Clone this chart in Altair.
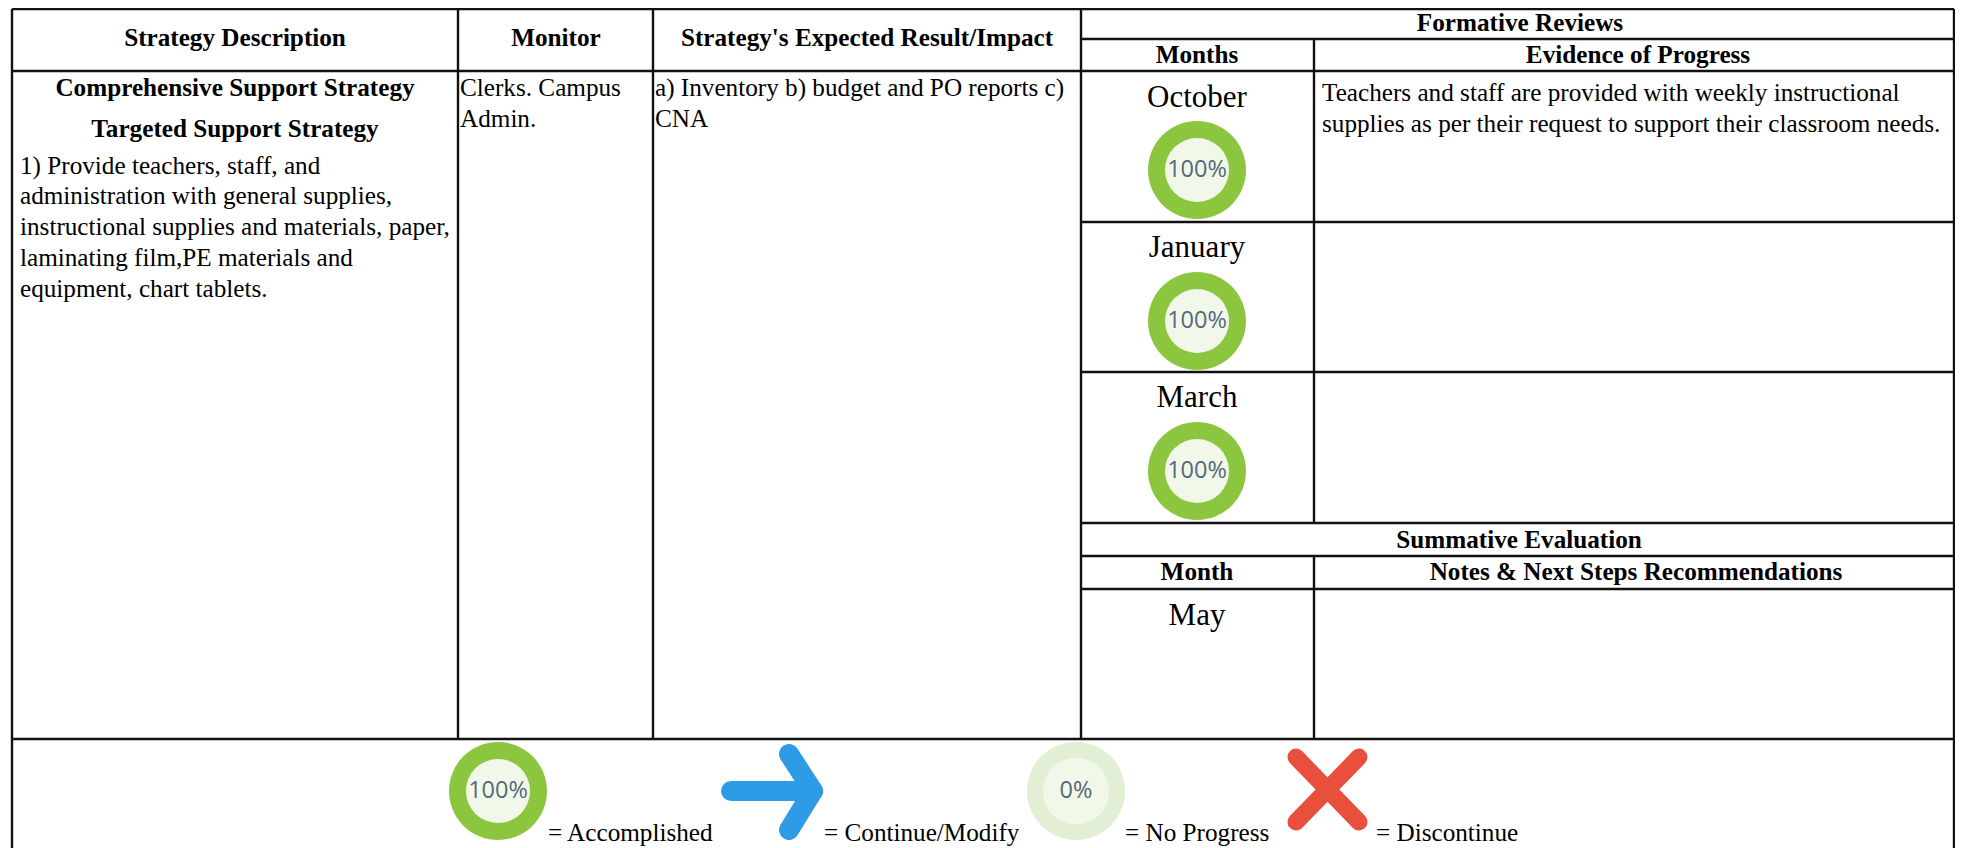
import altair as alt
import pandas as pd

# table grid
h_y = [9, 39, 71, 222, 372, 523, 556, 589, 739]
h_x1 = [12, 1081, 12, 1081, 1081, 1081, 1081, 1081, 12]
h_x2 = [1954] * 9
v_x = [12, 458, 653, 1081, 1314, 1314, 1954]
v_y1 = [9, 9, 9, 9, 39, 556, 9]
v_y2 = [848, 739, 739, 739, 523, 739, 848]

# text groups
head_text = ["Strategy Description", "Monitor", "Strategy's Expected Result/Impact", "Formative Reviews",
             "Months", "Evidence of Progress", "Summative Evaluation", "Month",
             "Notes & Next Steps Recommendations", "Comprehensive Support Strategy",
             "Targeted Support Strategy"]
head_x = [235, 556, 867, 1520, 1197, 1638, 1519, 1197, 1636, 235, 235]
head_y = [46, 46, 46, 31, 63, 63, 548, 580, 580, 96, 137]

body_text = ["1) Provide teachers, staff, and", "administration with general supplies,",
             "instructional supplies and materials, paper,", "laminating film,PE materials and",
             "equipment, chart tablets.", "Clerks. Campus", "Admin.",
             "a) Inventory b) budget and PO reports c)", "CNA",
             "Teachers and staff are provided with weekly instructional",
             "supplies as per their request to support their classroom needs.",
             "= Accomplished", "= Continue/Modify", "= No Progress", "= Discontinue"]
body_x = [20, 20, 20, 20, 20, 460, 460, 655, 655, 1322, 1322, 548, 824, 1125, 1376]
body_y = [174, 204, 235, 266, 297, 96, 127, 96, 127, 101, 132, 841, 841, 841, 841]

month_text = ["October", "January", "March", "May"]
month_x = [1197, 1197, 1197, 1197]
month_y = [107, 257, 407, 625]

# progress rings
ring_x = [1197, 1197, 1197, 498]
ring_y = [170, 321, 471, 791]
ring_label = ["100%", "100%", "100%", "100%"]
zero_x = [1076]
zero_y = [791]
zero_label = ["0%"]

# arrow and cross strokes
arrow_x = [731, 813, 789, 813, 789]
arrow_y = [791, 791, 754, 791, 830]
arrow_part = ["a", "a", "b", "b", "b"]
arrow_order = [0, 1, 0, 1, 2]
cross_x = [1296, 1359, 1359, 1296]
cross_y = [757, 822, 757, 822]
cross_part = ["a", "a", "b", "b"]

X = alt.Scale(domain=[8, 1955], range=[0, 1947], nice=False, zero=False)
Y = alt.Scale(domain=[8, 848], range=[0, 840], nice=False, zero=False)


def xe(f="x"):
    return alt.X(f"{f}:Q", scale=X, axis=None)


def ye(f="y"):
    return alt.Y(f"{f}:Q", scale=Y, axis=None)


INK = "#111111"
FONT = "Liberation Serif"
hl = alt.Chart(pd.DataFrame({"y": h_y, "x": h_x1, "x2": h_x2})).mark_rule(color=INK, strokeWidth=2.4).encode(
    x=xe(), x2="x2:Q", y=ye())
vl = alt.Chart(pd.DataFrame({"x": v_x, "y": v_y1, "y2": v_y2})).mark_rule(color=INK, strokeWidth=2.4).encode(
    x=xe(), y=ye(), y2="y2:Q")


def texts(t, x, y, **kw):
    return alt.Chart(pd.DataFrame({"t": t, "x": x, "y": y})).mark_text(
        font=FONT, color="#000000", baseline="alphabetic", **kw
    ).encode(x=xe(), y=ye(), text="t:N")


def dots(x, y, size, color):
    return alt.Chart(pd.DataFrame({"x": x, "y": y})).mark_point(
        shape="circle", filled=True, size=size, color=color, opacity=1
    ).encode(x=xe(), y=ye())


def ring_text(t, x, y, size):
    return alt.Chart(pd.DataFrame({"t": t, "x": x, "y": y})).mark_text(
        font="Open Sans", color="#56687a", baseline="middle", align="center", fontSize=size
    ).encode(x=xe(), y=ye(), text="t:N")


arrow = alt.Chart(pd.DataFrame({"x": arrow_x, "y": arrow_y, "p": arrow_part, "o": arrow_order})).mark_line(
    color="#2d9be5", strokeWidth=20, strokeCap="round", strokeJoin="round"
).encode(x=xe(), y=ye(), detail="p:N", order="o:Q")
cross = alt.Chart(pd.DataFrame({"x": cross_x, "y": cross_y, "p": cross_part})).mark_line(
    color="#e94f3d", strokeWidth=17, strokeCap="round"
).encode(x=xe(), y=ye(), detail="p:N")

chart = alt.layer(
    hl, vl,
    dots(ring_x, ring_y, 9604, "#8cc63f"),
    dots(ring_x, ring_y, 4100, "#f1f8ea"),
    dots(zero_x, zero_y, 9604, "#e2efd5"),
    dots(zero_x, zero_y, 4400, "#f1f8ea"),
    ring_text(ring_label, ring_x, ring_y, 23.5),
    ring_text(zero_label, zero_x, zero_y, 23.5),
    arrow, cross,
    texts(head_text, head_x, head_y, fontSize=25.2, fontWeight="bold", align="center"),
    texts(body_text, body_x, body_y, fontSize=25.2, align="left"),
    texts(month_text, month_x, month_y, fontSize=31, align="center"),
).properties(width=1947, height=840, padding=0, autosize="none", background="white").configure_view(stroke=None)

chart.save("out.html", embed_options={"renderer": "svg", "actions": False})
